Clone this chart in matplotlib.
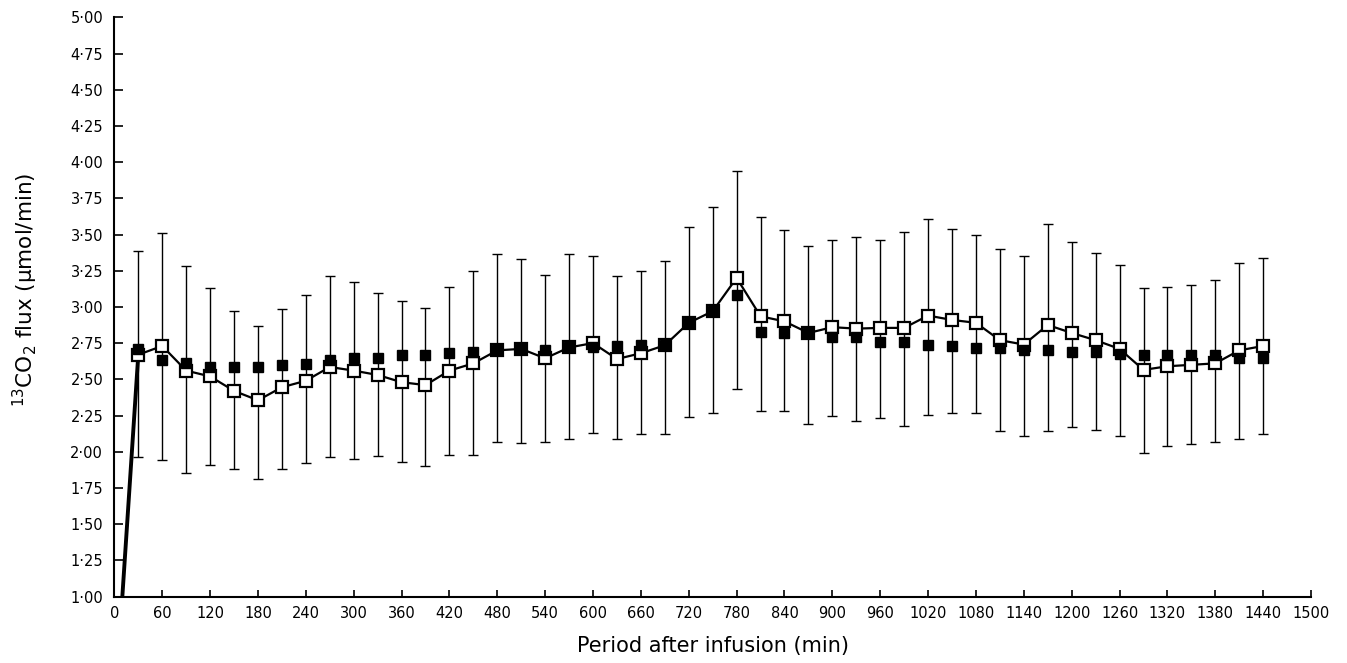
import matplotlib
matplotlib.use("Agg")
import matplotlib.pyplot as plt
import numpy as np
from matplotlib.ticker import FuncFormatter, MultipleLocator

plt.rcParams['font.family'] = ['DejaVu Sans']

# Time after infusion (min)
minutes = [30, 60, 90, 120, 150, 180, 210, 240, 270, 300, 330, 360, 390, 420, 450,
           480, 510, 540, 570, 600, 630, 660, 690, 720, 750, 780, 810, 840, 870, 900,
           930, 960, 990, 1020, 1050, 1080, 1110, 1140, 1170, 1200, 1230, 1260, 1290,
           1320, 1350, 1380, 1410, 1440]

# Open squares (connected by line)
open_flux = [2.67, 2.73, 2.56, 2.52, 2.42, 2.355, 2.445, 2.49, 2.585, 2.56, 2.53, 2.48,
             2.46, 2.56, 2.61, 2.70, 2.71, 2.645, 2.72, 2.75, 2.64, 2.68, 2.735, 2.89,
             2.97, 3.20, 2.935, 2.90, 2.82, 2.86, 2.85, 2.855, 2.855, 2.94, 2.91, 2.89,
             2.77, 2.74, 2.875, 2.82, 2.77, 2.71, 2.565, 2.59, 2.60, 2.61, 2.70, 2.73]

# Filled squares
filled_flux = [2.71, 2.63, 2.61, 2.585, 2.585, 2.585, 2.60, 2.605, 2.63, 2.645, 2.65, 2.667,
               2.67, 2.68, 2.686, 2.70, 2.71, 2.70, 2.72, 2.72, 2.73, 2.74, 2.735, 2.89,
               2.97, 3.08, 2.83, 2.82, 2.82, 2.79, 2.79, 2.76, 2.76, 2.74, 2.73, 2.715,
               2.715, 2.70, 2.70, 2.69, 2.69, 2.675, 2.665, 2.665, 2.665, 2.665, 2.65, 2.65]

# Error bar extents (upper and lower caps)
err_upper = [3.386, 3.51, 3.28, 3.13, 2.97, 2.87, 2.985, 3.08, 3.21, 3.17, 3.095, 3.04,
             2.995, 3.14, 3.25, 3.365, 3.33, 3.22, 3.365, 3.35, 3.216, 3.245, 3.32, 3.55,
             3.69, 3.94, 3.62, 3.53, 3.42, 3.46, 3.485, 3.46, 3.52, 3.61, 3.54, 3.50,
             3.40, 3.35, 3.57, 3.45, 3.37, 3.29, 3.13, 3.14, 3.15, 3.185, 3.30, 3.34]
err_lower = [1.96, 1.94, 1.85, 1.91, 1.88, 1.81, 1.88, 1.92, 1.96, 1.95, 1.97, 1.93,
             1.90, 1.98, 1.98, 2.07, 2.06, 2.07, 2.085, 2.127, 2.085, 2.125, 2.12, 2.24,
             2.27, 2.43, 2.28, 2.28, 2.19, 2.245, 2.21, 2.23, 2.18, 2.255, 2.266, 2.27,
             2.14, 2.11, 2.145, 2.17, 2.15, 2.11, 1.99, 2.04, 2.05, 2.065, 2.09, 2.12]

# Initial rise line
rise_x = [10, 30]
rise_y = [1.00, 2.67]

x_ticks = list(range(0, 1501, 60))

fig = plt.figure(figsize=(13.47, 6.63), dpi=100)
ax = fig.add_axes([0.0849, 0.1003, 0.8884, 0.8736])

mx = np.array(minutes)
op = np.array(open_flux)
up = np.array(err_upper)
lo = np.array(err_lower)

ax.errorbar(mx, op, yerr=[op - lo, up - op], fmt='none', ecolor='black',
            elinewidth=1.0, capsize=3.5, capthick=1.0, zorder=2)
ax.plot(rise_x, rise_y, color='black', lw=2.8, zorder=3, solid_capstyle='butt')
ax.plot(mx, op, color='black', lw=1.6, marker='s', markersize=8.5,
        markerfacecolor='white', markeredgecolor='black', markeredgewidth=1.6, zorder=4)
ax.plot(mx, filled_flux, linestyle='none', marker='s', markersize=7.8,
        color='black', zorder=5)

ax.set_xlim(0, 1500)
ax.set_ylim(1.0, 5.0)
ax.set_xticks(x_ticks)
ax.yaxis.set_major_locator(MultipleLocator(0.25))
ax.yaxis.set_major_formatter(FuncFormatter(lambda v, p: f"{v:.2f}".replace('.', '\u00b7')))

for s in ['top', 'right']:
    ax.spines[s].set_visible(False)
for s in ['left', 'bottom']:
    ax.spines[s].set_linewidth(1.5)

ax.tick_params(axis='y', direction='in', length=6.5, width=1.2, pad=8, labelsize=10.5)
ax.tick_params(axis='x', direction='in', length=5, width=1.2, pad=7, labelsize=10.5)

ax.set_xlabel('Period after infusion (min)', fontsize=15)
ax.xaxis.set_label_coords(0.5, -0.068)
ax.set_ylabel(r'$^{13}$CO$_2$ flux (μmol/min)', fontsize=15.5)
ax.yaxis.set_label_coords(-0.062, 0.53)

fig.savefig('out.png', dpi=100)
